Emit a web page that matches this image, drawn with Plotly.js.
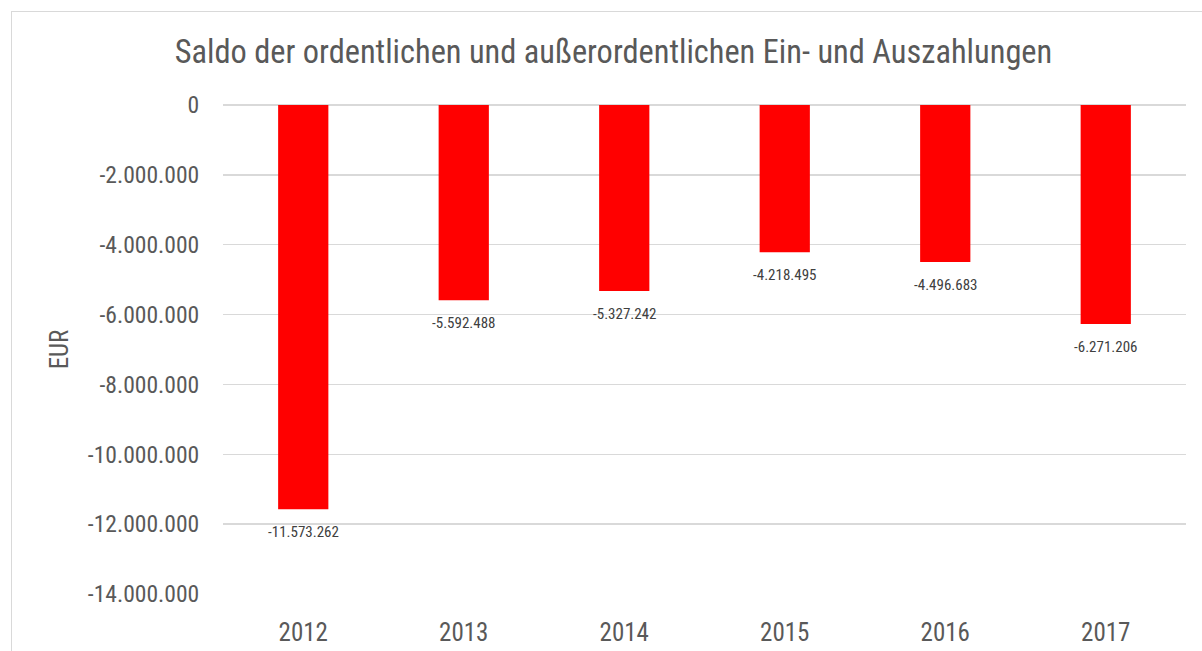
<!DOCTYPE html>
<html>
<head>
<meta charset="utf-8">
<script src="https://cdn.plot.ly/plotly-3.0.1.min.js"></script>
<style>
  html, body { margin: 0; padding: 0; background: #fff; overflow: hidden; }
  #chart { width: 1202px; height: 651px; position: absolute; left: 0; top: 0; }
  #frame { position: absolute; left: 11px; top: 11px; width: 1400px; height: 900px;
           border: 1px solid #d9d9d9; pointer-events: none; }
</style>
</head>
<body>
<div id="chart"></div>
<div id="frame"></div>
<script>
const years = ['2012', '2013', '2014', '2015', '2016', '2017'];
const saldo = [-11573262, -5592488, -5327242, -4218495, -4496683, -6271206];
const yTickVals = [0, -2000000, -4000000, -6000000, -8000000, -10000000, -12000000, -14000000];
const yTickText = ['0', '-2.000.000', '-4.000.000', '-6.000.000', '-8.000.000', '-10.000.000', '-12.000.000', '-14.000.000'];
const titleText = 'Saldo der ordentlichen und außerordentlichen Ein- und Auszahlungen';
const yTitle = 'EUR';

const FONT = '"Roboto Condensed", "Archivo Narrow", sans-serif';

function fmt(v) {
  const s = Math.abs(v).toString().replace(/\B(?=(\d{3})+(?!\d))/g, '.');
  return (v < 0 ? '-' : '') + s;
}

const trace = {
  type: 'bar',
  x: years,
  y: saldo,
  marker: { color: '#ff0000' },
  width: 0.313,
  hoverinfo: 'x+y'
};

const annotations = years.map((yr, i) => ({
  x: i, y: saldo[i], xref: 'x', yref: 'y',
  text: fmt(saldo[i]), showarrow: false,
  yanchor: 'top', yshift: -12,
  font: { family: FONT, size: 15, color: '#404040' }
}));

const layout = {
  width: 1202, height: 651,
  margin: { l: 223, r: 16, t: 105, b: 57 },
  paper_bgcolor: 'rgba(0,0,0,0)',
  plot_bgcolor: '#fff',
  showlegend: false,
  title: {
    text: titleText,
    x: 613.5 / 1202, xanchor: 'center', xref: 'container',
    y: 1 - 52 / 651, yanchor: 'middle', yref: 'container',
    font: { family: FONT, size: 32.4, color: '#595959' }
  },
  xaxis: {
    type: 'category',
    range: [-0.5, 5.5],
    tickfont: { family: FONT, size: 25, color: '#595959' },
    ticks: 'outside', ticklen: 16, tickcolor: 'rgba(0,0,0,0)',
    showgrid: false, zeroline: false, showline: false
  },
  yaxis: {
    range: [-14000000, 0],
    tickvals: yTickVals, ticktext: yTickText,
    tickfont: { family: FONT, size: 23.6, color: '#595959' },
    ticks: 'outside', ticklen: 18, tickcolor: 'rgba(0,0,0,0)',
    showgrid: true, gridcolor: '#d9d9d9', gridwidth: 1.3,
    zeroline: true, zerolinecolor: '#d9d9d9', zerolinewidth: 1.3,
    showline: false,
    title: { text: yTitle, font: { family: FONT, size: 25, color: '#595959' }, standoff: 12 }
  },
  annotations: annotations
};

Plotly.newPlot('chart', [trace], layout, { displayModeBar: false, staticPlot: true });
</script>
</body>
</html>
